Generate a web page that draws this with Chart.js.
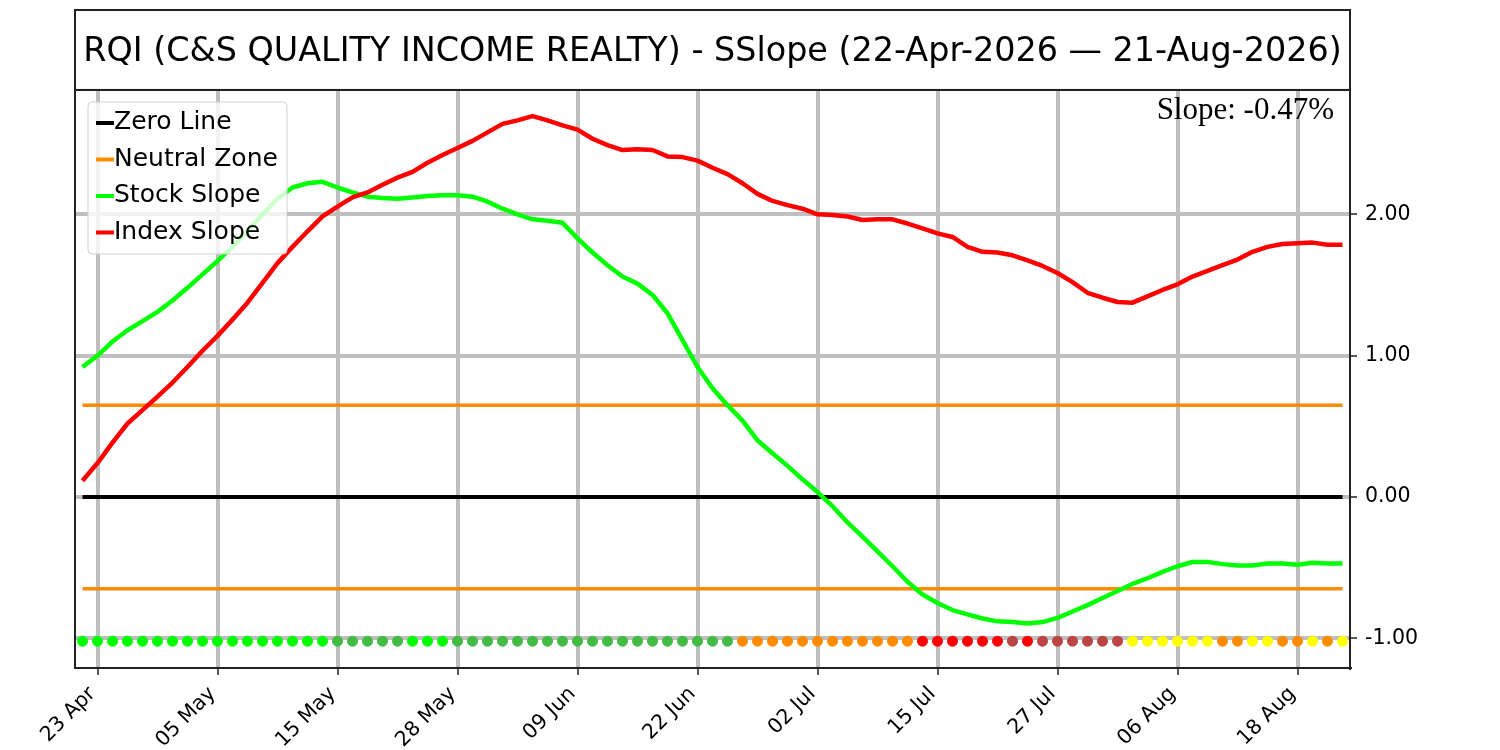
<!DOCTYPE html>
<html>
<head>
<meta charset="utf-8">
<title>RQI - SSlope</title>
<script src="https://cdn.jsdelivr.net/npm/chart.js@4.4.1/dist/chart.umd.min.js"></script>
<style>
  html, body { margin: 0; padding: 0; background: #fff; }
</style>
</head>
<body>
<canvas id="slopeChart" width="1500" height="750"></canvas>
<script>
// Trading days 22 Apr 2026 - 21 Aug 2026
var dates = [
  "22 Apr", "23 Apr", "24 Apr", "27 Apr", "28 Apr", "29 Apr", "30 Apr", "01 May", "04 May", "05 May",
  "06 May", "07 May", "08 May", "11 May", "12 May", "13 May", "14 May", "15 May", "18 May", "19 May",
  "20 May", "21 May", "22 May", "26 May", "27 May", "28 May", "29 May", "01 Jun", "02 Jun", "03 Jun",
  "04 Jun", "05 Jun", "08 Jun", "09 Jun", "10 Jun", "11 Jun", "12 Jun", "15 Jun", "16 Jun", "17 Jun",
  "18 Jun", "22 Jun", "23 Jun", "24 Jun", "25 Jun", "26 Jun", "29 Jun", "30 Jun", "01 Jul", "02 Jul",
  "06 Jul", "07 Jul", "08 Jul", "09 Jul", "10 Jul", "13 Jul", "14 Jul", "15 Jul", "16 Jul", "17 Jul",
  "20 Jul", "21 Jul", "22 Jul", "23 Jul", "24 Jul", "27 Jul", "28 Jul", "29 Jul", "30 Jul", "31 Jul",
  "03 Aug", "04 Aug", "05 Aug", "06 Aug", "07 Aug", "10 Aug", "11 Aug", "12 Aug", "13 Aug", "14 Aug",
  "17 Aug", "18 Aug", "19 Aug", "20 Aug", "21 Aug"
];
// dates shown on the x axis
var tickDates = ["23 Apr", "05 May", "15 May", "28 May", "09 Jun", "22 Jun", "02 Jul", "15 Jul", "27 Jul", "06 Aug", "18 Aug"];
var yTicks = [-1, 0, 1, 2];

// Stock slope
var stockSlope = [
  0.92, 1.00, 1.10, 1.18, 1.245, 1.31, 1.39, 1.48, 1.575, 1.67,
  1.77, 1.88, 2.00, 2.11, 2.19, 2.22, 2.23, 2.19, 2.155, 2.125,
  2.115, 2.11, 2.12, 2.13, 2.135, 2.135, 2.125, 2.09, 2.04, 2.00,
  1.965, 1.955, 1.94, 1.83, 1.73, 1.64, 1.56, 1.51, 1.43, 1.30,
  1.11, 0.92, 0.77, 0.65, 0.54, 0.40, 0.31, 0.22, 0.125, 0.035,
  -0.065, -0.18, -0.28, -0.385, -0.49, -0.60, -0.69, -0.75, -0.80, -0.83,
  -0.86, -0.88, -0.885, -0.895, -0.885, -0.855, -0.81, -0.765, -0.715, -0.665,
  -0.615, -0.575, -0.53, -0.49, -0.46, -0.46, -0.475, -0.485, -0.485, -0.47,
  -0.47, -0.48, -0.465, -0.47, -0.47
];
// Index slope
var indexSlope = [
  0.115, 0.24, 0.385, 0.52, 0.615, 0.71, 0.81, 0.92, 1.035, 1.14,
  1.255, 1.375, 1.515, 1.655, 1.77, 1.88, 1.985, 2.055, 2.12, 2.155,
  2.21, 2.26, 2.30, 2.365, 2.42, 2.47, 2.52, 2.58, 2.64, 2.665,
  2.695, 2.665, 2.63, 2.60, 2.535, 2.49, 2.455, 2.46, 2.455, 2.41,
  2.405, 2.38, 2.33, 2.285, 2.22, 2.145, 2.095, 2.065, 2.04, 2.00,
  1.995, 1.985, 1.96, 1.965, 1.965, 1.935, 1.90, 1.865, 1.84, 1.77,
  1.735, 1.73, 1.71, 1.675, 1.635, 1.585, 1.52, 1.445, 1.41, 1.38,
  1.375, 1.42, 1.465, 1.505, 1.56, 1.60, 1.64, 1.68, 1.735, 1.77,
  1.79, 1.795, 1.80, 1.785, 1.785
];
// Daily signal: G strong up, g up, O neutral, R strong down, r down, Y turning
var signals = [
  "G", "G", "G", "G", "G", "G", "G", "G", "G", "G", "G", "G", "G", "G", "G", "G", "G",
  "g", "g", "g", "g", "g",
  "G", "G", "G",
  "g", "g", "g", "g", "g", "g", "g", "g", "g", "g", "g", "g", "g", "g", "g", "g", "g", "g", "g",
  "O", "O", "O", "O", "O", "O", "O", "O", "O", "O", "O", "O",
  "R", "R", "R", "R", "R", "R", "r", "R", "r", "r", "r", "r", "r", "r",
  "Y", "Y", "Y", "Y", "Y", "Y", "O", "O", "Y", "Y", "O", "O", "Y", "O", "Y"
];
var neutralLevel = 0.65;
var signalLevel = -1.02;
var titleText = "RQI (C&S QUALITY INCOME REALTY) - SSlope (22-Apr-2026 \u2014 21-Aug-2026)";
var slopeText = "Slope: -0.47%";

var signalColors = { G: "#00ff00", g: "#44bb44", O: "#ff8c00", R: "#ff0000", r: "#bb4444", Y: "#ffff00" };
var gridColor = "#bfbfbf";
var frameColor = "#222222";

Chart.defaults.font.family = "'DejaVu Sans'";
Chart.defaults.color = "#000";

function toPoints(values) {
  return values.map(function (v, i) { return { x: i, y: v }; });
}
// horizontal reference line over the whole date range
function flatLine(level) {
  return [{ x: 0, y: level }, { x: dates.length - 1, y: level }];
}

// frame, title box, slope text and legend box
var decorPlugin = {
  id: "decor",
  afterDatasetsDraw: function (chart) {
    var ctx = chart.ctx;
    var area = chart.chartArea;
    var items = chart.data.datasets.filter(function (d) { return !d.noLegend; });
    var x0 = area.left + 13, y0 = area.top + 12, w = 199, h = 152;
    ctx.save();
    ctx.beginPath();
    ctx.roundRect(x0, y0, w, h, 4);
    ctx.fillStyle = "rgba(255,255,255,0.8)";
    ctx.fill();
    ctx.strokeStyle = "#d0d0d0";
    ctx.lineWidth = 1;
    ctx.stroke();
    ctx.font = "25px 'DejaVu Sans'";
    ctx.textBaseline = "middle";
    ctx.textAlign = "left";
    items.forEach(function (d, i) {
      var y = y0 + 21 + i * 36.5;
      ctx.beginPath();
      ctx.moveTo(x0 + 8, y);
      ctx.lineTo(x0 + 26, y);
      ctx.strokeStyle = d.borderColor;
      ctx.lineWidth = 4;
      ctx.stroke();
      ctx.fillStyle = "#000";
      ctx.fillText(d.label, x0 + 26, y);
    });
    ctx.font = "31px 'Liberation Serif'";
    ctx.textAlign = "right";
    ctx.textBaseline = "alphabetic";
    ctx.fillText(slopeText, area.right - 16, area.top + 29);
    ctx.restore();
  },
  afterDraw: function (chart) {
    var ctx = chart.ctx;
    var area = chart.chartArea;
    ctx.save();
    ctx.strokeStyle = frameColor;
    ctx.lineWidth = 2;
    ctx.strokeRect(area.left, area.top, area.right - area.left, area.bottom - area.top);
    ctx.strokeRect(area.left, 10, area.right - area.left, area.top - 10);
    ctx.restore();
  }
};

new Chart(document.getElementById("slopeChart"), {
  type: "line",
  data: {
    datasets: [{
      label: "Zero Line",
      data: flatLine(0),
      borderColor: "#000000",
      borderWidth: 4,
      order: 5
    }, {
      label: "Neutral Zone",
      data: flatLine(neutralLevel),
      borderColor: "#ff8c00",
      borderWidth: 3.5,
      order: 4
    }, {
      label: "Neutral Zone",
      noLegend: true,
      data: flatLine(-neutralLevel),
      borderColor: "#ff8c00",
      borderWidth: 3.5,
      order: 4
    }, {
      label: "Stock Slope",
      data: toPoints(stockSlope),
      borderColor: "#00ff00",
      borderWidth: 4.5,
      order: 3
    }, {
      label: "Index Slope",
      data: toPoints(indexSlope),
      borderColor: "#ff0000",
      borderWidth: 4.5,
      order: 2
    }, {
      label: "Signal",
      noLegend: true,
      data: signals.map(function (s, i) { return { x: i, y: signalLevel }; }),
      showLine: false,
      pointRadius: 5.5,
      pointHoverRadius: 5.5,
      pointBorderWidth: 0,
      pointBackgroundColor: signals.map(function (s) { return signalColors[s]; }),
      order: 1
    }]
  },
  options: {
    responsive: false,
    devicePixelRatio: 1,
    animation: false,
    events: [],
    elements: {
      line: { tension: 0, borderJoinStyle: "round", fill: false },
      point: { radius: 0 }
    },
    layout: { padding: { left: 75, top: 0, right: 0, bottom: 0 } },
    plugins: {
      legend: { display: false },
      tooltip: { enabled: false },
      title: {
        display: true,
        fullSize: false,
        text: titleText,
        color: "#000",
        font: { size: 33.4, weight: "normal", lineHeight: 1.2 },
        padding: { top: 32, bottom: 17.9 }
      }
    },
    scales: {
      x: {
        type: "linear",
        min: -0.5,
        max: dates.length - 0.5,
        afterBuildTicks: function (scale) {
          scale.ticks = tickDates.map(function (d) { return { value: dates.indexOf(d) }; });
        },
        afterFit: function (scale) { scale.height = 82; },
        ticks: {
          autoSkip: false,
          maxRotation: 45,
          minRotation: 45,
          padding: 7,
          labelOffset: -5,
          font: { size: 20.5 },
          callback: function (v) { return dates[v]; }
        },
        grid: { color: gridColor, lineWidth: 4, tickColor: frameColor, tickWidth: 1.5, tickLength: 7 },
        border: { color: frameColor, width: 2 }
      },
      y: {
        type: "linear",
        position: "right",
        min: -1.21,
        max: 2.88,
        afterBuildTicks: function (scale) {
          scale.ticks = yTicks.map(function (v) { return { value: v }; });
        },
        afterFit: function (scale) { scale.width = 150; },
        ticks: {
          padding: 8,
          font: { size: 20.5 },
          callback: function (v) { return v.toFixed(2); }
        },
        grid: { color: gridColor, lineWidth: 4, tickColor: frameColor, tickWidth: 1.5, tickLength: 7 },
        border: { color: frameColor, width: 2 }
      }
    }
  },
  plugins: [decorPlugin]
});
</script>
</body>
</html>
